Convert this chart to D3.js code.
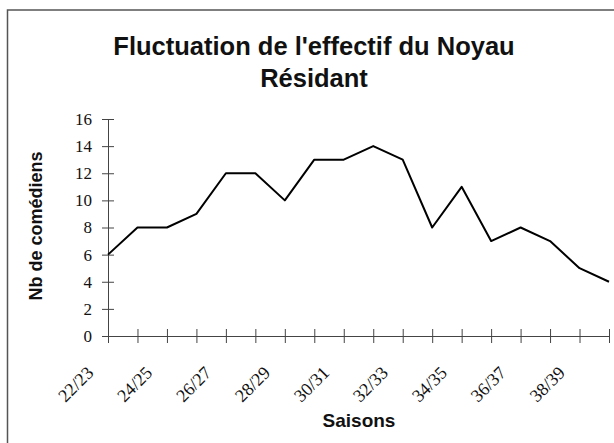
<!DOCTYPE html>
<html>
    <head>
        <meta charset="utf-8">
        <script src="https://cdn.jsdelivr.net/npm/d3@7"></script>
        <style>
            body { margin: 0; background: #fff; }
            svg { display: block; }
        </style>
    </head>
    <body>
        <svg width="614" height="443"></svg>
    </body>
    <script>
        // seasons and number of actors
        const seasons = ["22/23", "23/24", "24/25", "25/26", "26/27", "27/28", "28/29", "29/30", "30/31",
                         "31/32", "32/33", "33/34", "34/35", "35/36", "36/37", "37/38", "38/39", "39/40"];
        const effectif = [6, 8, 8, 9, 12, 12, 10, 13, 13, 14, 13, 8, 11, 7, 8, 7, 5, 4];
        const yTicks = [0, 2, 4, 6, 8, 10, 12, 14, 16];
        const shownLabels = ["22/23", "24/25", "26/27", "28/29", "30/31", "32/33", "34/35", "36/37", "38/39"];

        const SANS = "'Liberation Sans', Arial, sans-serif";
        const SERIF = "'Liberation Serif', 'Times New Roman', serif";

        const svg = d3.select("svg");

        // frame
        svg.append("rect")
            .attr("x", 7.5).attr("y", 10)
            .attr("width", 620).attr("height", 450)
            .attr("fill", "none")
            .attr("stroke", "#555")
            .attr("stroke-width", 1.5);

        const x = d3.scalePoint().domain(seasons).range([108, 609]);
        const y = d3.scaleLinear().domain([0, 16]).range([336, 119]);

        // title
        const title = svg.append("text")
            .style("font-family", SANS)
            .style("font-weight", "bold")
            .attr("text-anchor", "middle")
            .attr("font-size", 25.5)
            .attr("fill", "#111");
        title.append("tspan").attr("x", 314).attr("y", 55).text("Fluctuation de l'effectif du Noyau");
        title.append("tspan").attr("x", 314).attr("y", 87).text("Résidant");

        // y axis
        const yAxis = svg.append("g")
            .attr("transform", "translate(108,0)")
            .call(d3.axisLeft(y).tickValues(yTicks).tickSizeInner(6).tickSizeOuter(0).tickPadding(10));
        yAxis.select(".domain").attr("stroke", "#444");
        yAxis.selectAll(".tick line").attr("x1", 6).attr("stroke", "#444");
        yAxis.selectAll(".tick text")
            .style("font-family", SERIF)
            .style("font-size", "17px")
            .attr("fill", "#111");

        // x axis
        const xAxis = svg.append("g")
            .attr("transform", "translate(0,336)")
            .call(d3.axisBottom(x).tickSizeInner(7).tickSizeOuter(0)
                .tickFormat(d => shownLabels.includes(d) ? d : ""));
        xAxis.select(".domain").attr("stroke", "#444");
        xAxis.selectAll(".tick line").attr("y1", -7).attr("stroke", "#444");
        xAxis.selectAll(".tick text")
            .style("font-family", SERIF)
            .style("font-size", "18px")
            .attr("fill", "#111")
            .attr("text-anchor", "end")
            .attr("x", -14)
            .attr("y", 38)
            .attr("dy", 0)
            .attr("transform", "rotate(-45 -14 38)");

        // line
        const line = d3.line()
            .x((d, i) => x(seasons[i]))
            .y(d => y(d));

        svg.append("path")
            .datum(effectif)
            .attr("d", line)
            .attr("fill", "none")
            .attr("stroke", "#000")
            .attr("stroke-width", 2)
            .attr("stroke-linejoin", "round");

        // axis titles
        svg.append("text")
            .style("font-family", SANS)
            .style("font-weight", "bold")
            .attr("text-anchor", "middle")
            .attr("font-size", 19)
            .attr("fill", "#111")
            .attr("x", 359).attr("y", 427)
            .text("Saisons");

        svg.append("text")
            .style("font-family", SANS)
            .style("font-weight", "bold")
            .attr("text-anchor", "middle")
            .attr("font-size", 18)
            .attr("fill", "#111")
            .attr("transform", "translate(42,226) rotate(-90)")
            .text("Nb de comédiens");
    </script>
</html>
